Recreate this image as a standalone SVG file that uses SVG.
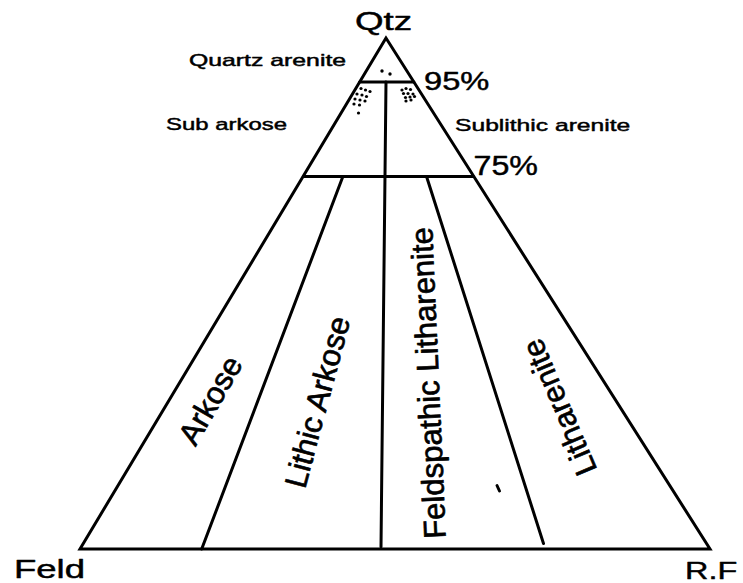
<svg xmlns="http://www.w3.org/2000/svg" width="743" height="583" viewBox="0 0 743 583">
<style>
.ln{stroke:#000;stroke-width:3;fill:none;stroke-linecap:round;stroke-linejoin:miter}
.t{font-family:"Liberation Sans",Arial,Helvetica,sans-serif;fill:#000;stroke:#000;stroke-width:0.45;stroke-linejoin:round}
.r{font-size:31px;text-anchor:middle;stroke-width:0.65}
.dot{fill:#000}
</style>
<rect width="743" height="583" fill="#fff"/>
<g id="connectors">
<polygon class="ln" points="386,38 80,549 710,549"/>
<line class="ln" x1="359.7" y1="82" x2="413.9" y2="82"/>
<line class="ln" x1="303.5" y1="176.5" x2="473.3" y2="176.5"/>
<line class="ln" x1="386" y1="82" x2="381" y2="547"/>
<line class="ln" x1="342.7" y1="177" x2="201.7" y2="549"/>
<line class="ln" x1="426.7" y1="177" x2="543.5" y2="543.5"/>
<line class="ln" x1="497" y1="485.5" x2="499.5" y2="491" stroke-width="2.5"/>
</g>
<g id="dots">
<circle class="dot" cx="382" cy="71" r="1.7"/>
<circle class="dot" cx="390" cy="74" r="1.7"/>
<circle class="dot" cx="361" cy="88.5" r="1.6"/>
<circle class="dot" cx="365.5" cy="90" r="1.6"/>
<circle class="dot" cx="370" cy="91.5" r="1.6"/>
<circle class="dot" cx="357" cy="94" r="1.6"/>
<circle class="dot" cx="362" cy="95" r="1.6"/>
<circle class="dot" cx="366.5" cy="96.5" r="1.6"/>
<circle class="dot" cx="355" cy="99" r="1.6"/>
<circle class="dot" cx="360" cy="100" r="1.6"/>
<circle class="dot" cx="365" cy="101" r="1.6"/>
<circle class="dot" cx="354" cy="104" r="1.6"/>
<circle class="dot" cx="359.5" cy="105" r="1.6"/>
<circle class="dot" cx="358.5" cy="113" r="1.6"/>
<circle class="dot" cx="402" cy="90" r="1.6"/>
<circle class="dot" cx="406" cy="88.5" r="1.6"/>
<circle class="dot" cx="410.5" cy="89.5" r="1.6"/>
<circle class="dot" cx="403.5" cy="93.5" r="1.6"/>
<circle class="dot" cx="408" cy="93.5" r="1.6"/>
<circle class="dot" cx="413" cy="94" r="1.6"/>
<circle class="dot" cx="405.5" cy="97.5" r="1.6"/>
<circle class="dot" cx="410" cy="97" r="1.6"/>
<circle class="dot" cx="414.5" cy="96.5" r="1.6"/>
<circle class="dot" cx="406" cy="101" r="1.6"/>
<circle class="dot" cx="411" cy="100" r="1.6"/>
</g>
<g id="qtz"><text class="t" transform="translate(355,30) scale(1.47,1)" font-size="25">Qtz</text></g>
<g id="feld"><text class="t" transform="translate(14,578) scale(1.46,1)" font-size="25">Feld</text></g>
<g id="rf"><text class="t" transform="translate(685,579) scale(1.35,1)" font-size="24">R.F</text></g>
<g id="quartz-arenite"><text class="t" transform="translate(189,66) scale(1.55,1)" font-size="16">Quartz arenite</text></g>
<g id="p95"><text class="t" transform="translate(424,90) scale(1.28,1)" font-size="25.5">95%</text></g>
<g id="sub-arkose"><text class="t" transform="translate(166,129.5) scale(1.45,1)" font-size="16.5">Sub arkose</text></g>
<g id="sublithic-arenite"><text class="t" transform="translate(455,130.5) scale(1.45,1)" font-size="17">Sublithic arenite</text></g>
<g id="p75"><text class="t" transform="translate(473.5,175) scale(1.15,1)" font-size="28">75%</text></g>
<g id="arkose"><text class="t r" transform="translate(210,400) rotate(-60)" x="0" y="11">Arkose</text></g>
<g id="lithic-arkose"><text class="t r" transform="translate(317,402) rotate(-75)" x="0" y="11">Lithic Arkose</text></g>
<g id="feldspathic-litharenite"><text class="t r" transform="translate(428,383) rotate(-92.5)" x="0" y="11">Feldspathic Litharenite</text></g>
<g id="litharenite"><text class="t r" transform="translate(559,407.5) rotate(-113)" x="0" y="11">Litharenite</text></g>
</svg>
